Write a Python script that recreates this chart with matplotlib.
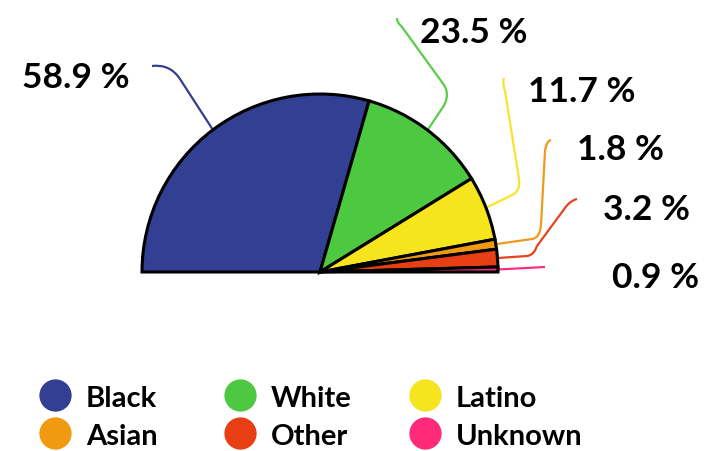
import numpy as np
import matplotlib
matplotlib.use("Agg")
import matplotlib.pyplot as plt
from matplotlib.path import Path
from matplotlib.patches import PathPatch

plt.rcParams['font.family'] = ['Lato', 'DejaVu Sans']

# data
groups = ['Black', 'White', 'Latino', 'Asian', 'Other', 'Unknown']
shares = [58.9, 23.5, 11.7, 1.8, 3.2, 0.9]
colors = ['#323f92', '#4cc941', '#f6e41f', '#f09a12', '#e83e14', '#ff2a7a']
line_colors = ['#34408f', '#5bcb4c', '#f8e42c', '#f09a1c', '#e8431c', '#ff2e7e']

W, H = 715, 452
fig = plt.figure(figsize=(W / 100, H / 100), dpi=100)
ax = fig.add_axes([0, 0, 1, 1])

cx, cy, R = 320, H - 273, 178

# half pie: a hidden wedge of the same total takes the lower half
wedges, _ = ax.pie(shares + [sum(shares)], startangle=180, counterclock=False,
                   center=(cx, cy), radius=R, colors=colors + ['none'],
                   wedgeprops=dict(edgecolor='black', linewidth=2.2))
wedges[-1].set_visible(False)
ax.set_xlim(0, W)
ax.set_ylim(0, H)
ax.set_aspect('equal')
ax.axis('off')

# leader lines (screen px coords, y down), start from the mid angle of each slice
leaders = [
    [('L', (180, 80)), ('C', (172, 68), (162, 66), (152, 67))],
    [('L', (443, 108)), ('C', (448, 100), (448, 92), (444, 86)), ('L', (402, 28)),
     ('C', (398, 24), (397, 22), (397, 19))],
    [('L', (512, 196)), ('C', (518, 193), (520, 188), (519, 180)), ('L', (505, 92)),
     ('C', (503, 85), (503, 82), (504, 79))],
    [('L', (532, 240)), ('C', (538, 239), (540, 234), (541, 226)), ('L', (545, 152)),
     ('C', (546, 145), (548, 142), (551, 141))],
    [('L', (527, 257)), ('C', (533, 256), (535, 252), (537, 247)), ('L', (565, 209)),
     ('C', (570, 202), (574, 201), (577, 200))],
    [('L', (545, 268))],
]
label_pos = [(22, 78), (420, 33), (528, 92), (577, 150), (603, 210), (612, 278)]

angle = 180.0
for share, lc, segs, (lx, ly) in zip(shares, line_colors, leaders, label_pos):
    mid = np.radians(angle - share * 90 / 100)
    angle -= share * 180 / 100
    verts = [(cx + R * np.cos(mid), cy + R * np.sin(mid))]
    codes = [Path.MOVETO]
    for seg in segs:
        pts = [(x, H - y) for x, y in seg[1:]]
        verts += pts
        codes += [Path.LINETO] if seg[0] == 'L' else [Path.CURVE4] * 3
    ax.add_patch(PathPatch(Path(verts, codes), facecolor='none', edgecolor=lc,
                           lw=1.6, zorder=0))
    ax.text(lx, H - ly, f"{share} %", fontsize=25.5, fontweight='bold',
            ha='left', va='center')

# legend
leg_x = [55, 240, 425]
leg_y = [396, 434]
for i, (name, c) in enumerate(zip(groups, colors)):
    x = leg_x[i % 3]
    y = H - leg_y[i // 3]
    ax.scatter([x], [y], s=540, color=c, linewidths=0, zorder=3)
    ax.text(x + 31, y - 3, name, fontsize=21, fontweight='bold', ha='left', va='center')

fig.savefig('out.png', dpi=100)
